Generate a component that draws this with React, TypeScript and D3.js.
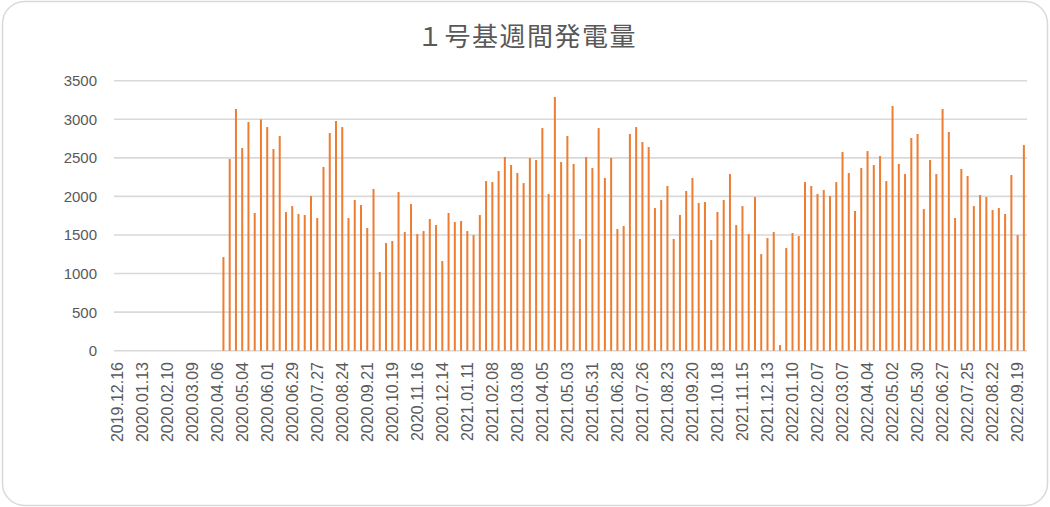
import React from "react";
import * as d3 from "d3";

const TITLE = "１号基週間発電量";
const START_DATE = "2019-12-16";
const WEEK_COUNT = 146;
const Y_TICKS = [0, 500, 1000, 1500, 2000, 2500, 3000, 3500];
const EMPTY_WEEKS = 17;
const OUTPUT_VALUES: number[] = [
  1214, 2485, 3133, 2627, 2964, 1785,
  2999, 2899, 2614, 2783, 1797, 1875, 1772, 1759, 2005, 1720, 2381, 2822, 2977, 2899, 1720, 1953, 1888, 1590, 2096, 1020, 1396, 1422, 2057, 1538,
  1901, 1512, 1551, 1707, 1629, 1162, 1785, 1668, 1681, 1551, 1499, 1759, 2199, 2186, 2329, 2511, 2407, 2303, 2173, 2498, 2472, 2886, 2031, 3288,
  2446, 2783, 2420, 1448, 2511, 2368, 2886, 2238, 2498, 1577, 1616, 2809, 2899, 2705, 2640, 1849, 1953, 2135, 1448, 1759, 2070, 2238, 1914, 1927,
  1435, 1798, 1953, 2290, 1629, 1875, 1512, 1992, 1253, 1460, 1538, 73, 1331, 1525, 1486, 2186, 2135, 2031, 2083, 2005, 2186, 2575, 2303, 1811,
  2368, 2588, 2407, 2523, 2199, 3172, 2420, 2290, 2757, 2809, 1836, 2472, 2290, 3133, 2835, 1720, 2355, 2264, 1875, 2018, 1992, 1823, 1849, 1772, 2277, 1499, 2666,
];
const LABEL_EVERY = 4;

const fmt = d3.timeFormat("%Y.%m.%d");
const start = d3.timeParse("%Y-%m-%d")(START_DATE) as Date;
const categories: string[] = d3.range(WEEK_COUNT).map((i) => fmt(d3.timeWeek.offset(start, i)));
const values: (number | null)[] = categories.map((_, i) =>
  i < EMPTY_WEEKS ? null : OUTPUT_VALUES[i - EMPTY_WEEKS] ?? null
);

const W = 1050;
const H = 507;
const LEFT = 114;
const RIGHT = 1027;
const TOP = 80.7;
const BOTTOM = 350.7;
const TEXT = "#595959";
const GRID = "#d9d9d9";
const BAR = "#ED7D31";
const FONT = "'Liberation Sans', Arial, sans-serif";

export default function App() {
  const x = d3.scaleBand<string>().domain(categories).range([LEFT, RIGHT]).paddingInner(0.68).paddingOuter(0.34);
  const y = d3.scaleLinear().domain([0, 3500]).range([BOTTOM, TOP]);
  return (
    <svg width={W} height={H} style={{ position: "absolute", left: 0, top: 0, background: "#fff" }}>
      <rect x={2.5} y={1.5} width={W - 5} height={H - 3} rx={22} ry={22} fill="#fff" stroke={GRID} strokeWidth={1.5} />
      <text x={527} y={46} textAnchor="middle" fontSize={26} letterSpacing={1.5} fill={TEXT}
        fontFamily="'Noto Sans CJK JP', 'Noto Sans CJK SC', sans-serif">{TITLE}</text>
      {Y_TICKS.map((t) => (
        <g key={t}>
          <line x1={LEFT} x2={RIGHT} y1={y(t)} y2={y(t)} stroke={GRID} strokeWidth={1.6} />
          <text x={97} y={y(t)} dy="0.36em" textAnchor="end" fontSize={15} fill={TEXT} fontFamily={FONT}>{t}</text>
        </g>
      ))}
      {categories.map((c, i) => {
        const v = values[i];
        if (v == null) return null;
        return <rect key={c} x={x(c)!} y={y(v)} width={x.bandwidth()} height={y(0) - y(v)} fill={BAR} />;
      })}
      {categories.map((c, i) => {
        if (i % LABEL_EVERY !== 0) return null;
        const cx = x(c)! + x.bandwidth() / 2;
        return (
          <text key={"l" + c} transform={`translate(${cx},362) rotate(-90)`} dy="0.36em" textAnchor="end"
            fontSize={16} fill={TEXT} fontFamily={FONT}>{c}</text>
        );
      })}
    </svg>
  );
}
